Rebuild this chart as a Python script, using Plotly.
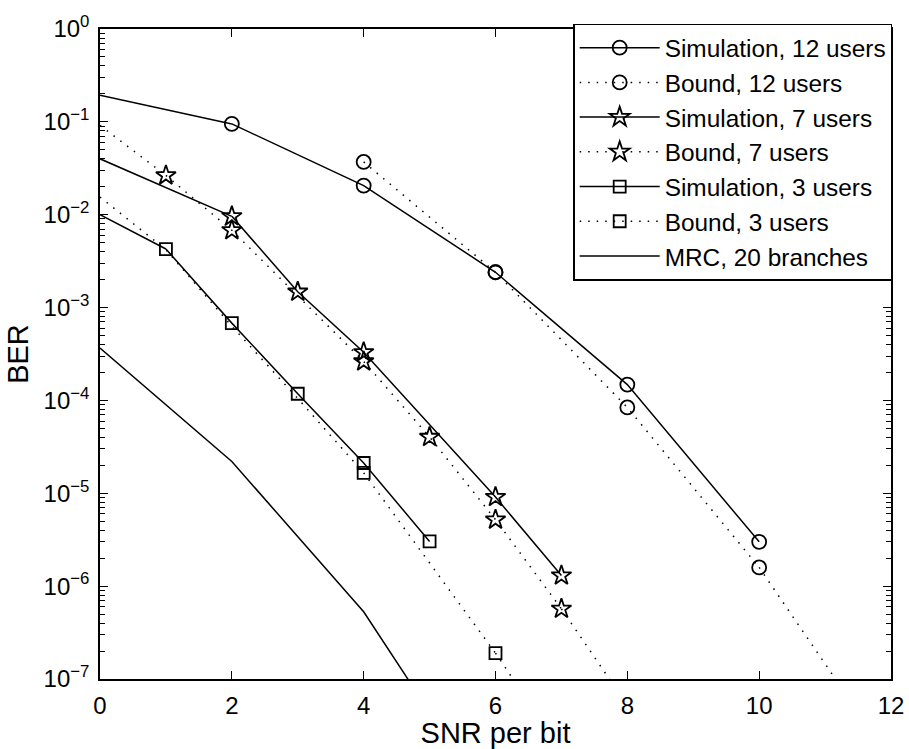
import plotly.graph_objects as go

# ---------------- data ----------------
snr_sim12 = [0, 2, 4, 6, 8, 10]
ber_sim12 = [0.193, 0.095, 0.0206, 0.0024, 1.48e-4, 3.0e-6]
mark_sim12 = [0, 1, 1, 1, 1, 1]

snr_bnd12 = [4, 6, 8, 10, 11, 11.5]
ber_bnd12 = [0.037, 0.0024, 8.4e-5, 1.59e-6, 1.46e-7, 4.4e-8]
mark_bnd12 = [1, 1, 1, 1, 0, 0]

snr_sim7 = [0, 2, 3, 4, 6, 7]
ber_sim7 = [0.040, 0.0096, 1.48e-3, 3.3e-4, 9.1e-6, 1.30e-6]
mark_sim7 = [0, 1, 1, 1, 1, 1]

snr_bnd7 = [0, 1, 2, 4, 5, 6, 7, 8]
ber_bnd7 = [0.0916, 0.0265, 0.0068, 2.63e-4, 4.04e-5, 5.2e-6, 5.7e-7, 5.2e-8]
mark_bnd7 = [0, 1, 1, 1, 1, 1, 1, 0]

snr_sim3 = [0, 1, 2, 3, 4, 5]
ber_sim3 = [0.0100, 4.27e-3, 6.8e-4, 1.18e-4, 2.12e-5, 3.03e-6]
mark_sim3 = [0, 1, 1, 1, 1, 1]

snr_bnd3 = [0, 1, 2, 3, 4, 6, 7]
ber_bnd3 = [0.0155, 4.2e-3, 6.3e-4, 1.05e-4, 1.66e-5, 1.9e-7, 1.7e-8]
mark_bnd3 = [0, 0, 0, 0, 1, 1, 0]

snr_mrc = [0, 2, 4, 5]
ber_mrc = [3.67e-4, 2.2e-5, 5.3e-7, 4.4e-8]

x_ticks = [0, 2, 4, 6, 8, 10, 12]
y_exps = [0, -1, -2, -3, -4, -5, -6, -7]

names = ["Simulation, 12 users", "Bound, 12 users", "Simulation, 7 users",
         "Bound, 7 users", "Simulation, 3 users", "Bound, 3 users",
         "MRC, 20 branches"]

# ---------------- figure ----------------
FONT = "Liberation Sans, Arial, Helvetica, sans-serif"
DOT = "1.5px,7px"
LW = 1.5
MLW = 1.8

fig = go.Figure()


def add(x, y, marks, name, symbol, msize, dash, group):
    idx = [i for i, m in enumerate(marks) if m]
    a, b = idx[0], idx[-1]
    line = dict(color="black", width=LW, dash=dash)
    # marked run: line + markers (carries the legend entry)
    fig.add_trace(go.Scatter(
        x=x[a:b + 1], y=y[a:b + 1], name=name, mode="lines+markers",
        legendgroup=group, line=line,
        marker=dict(symbol=symbol, size=msize, color="black",
                    line=dict(width=MLW, color="black")),
    ))
    # unmarked head / tail of the same curve
    if a > 0:
        fig.add_trace(go.Scatter(x=x[:a + 1], y=y[:a + 1], mode="lines",
                                 line=line, legendgroup=group,
                                 showlegend=False, hoverinfo="skip"))
    if b < len(x) - 1:
        fig.add_trace(go.Scatter(x=x[b:], y=y[b:], mode="lines",
                                 line=line, legendgroup=group,
                                 showlegend=False, hoverinfo="skip"))


add(snr_sim12, ber_sim12, mark_sim12, names[0], "circle-open", 14, "solid", "g1")
add(snr_bnd12, ber_bnd12, mark_bnd12, names[1], "circle-open", 14, DOT, "g2")
add(snr_sim7, ber_sim7, mark_sim7, names[2], "star-open", 15, "solid", "g3")
add(snr_bnd7, ber_bnd7, mark_bnd7, names[3], "star-open", 15, DOT, "g4")
add(snr_sim3, ber_sim3, mark_sim3, names[4], "square-open", 12, "solid", "g5")
add(snr_bnd3, ber_bnd3, mark_bnd3, names[5], "square-open", 12, DOT, "g6")
fig.add_trace(go.Scatter(x=snr_mrc, y=ber_mrc, name=names[6], mode="lines",
                         legendgroup="g7",
                         line=dict(color="black", width=LW)))

y_vals = [10.0 ** e for e in y_exps]
y_text = ["10<sup>%s</sup>" % (str(e).replace("-", "\u2212")) for e in y_exps]

fig.update_layout(
    width=909, height=749,
    margin=dict(l=100, r=18, t=29, b=70),
    paper_bgcolor="white", plot_bgcolor="white",
    font=dict(family=FONT, size=24, color="black"),
    showlegend=True,
    legend=dict(
        x=1.0015, xanchor="right", y=1.008, yanchor="top",
        bgcolor="white", bordercolor="black", borderwidth=1.5,
        font=dict(family=FONT, size=24.4, color="black"),
        itemsizing="trace", itemwidth=80, tracegroupgap=2,
        traceorder="normal",
    ),
    xaxis=dict(
        range=[0, 12], tickvals=x_ticks, ticktext=[str(v) for v in x_ticks],
        ticks="inside", ticklen=8, tickwidth=1.3, tickcolor="black",
        showline=True, linecolor="black", linewidth=1.5, mirror="ticks",
        showgrid=False, zeroline=False, automargin=False,
        title=dict(text="SNR per bit", standoff=2),
        ticklabelstandoff=4,
    ),
    yaxis=dict(
        type="log", range=[-7, 0], tickvals=y_vals, ticktext=y_text,
        ticks="inside", ticklen=8, tickwidth=1.3, tickcolor="black",
        showline=True, linecolor="black", linewidth=1.5, mirror="ticks",
        showgrid=False, zeroline=False, automargin=False,
        minor=dict(ticks="inside", ticklen=5, tickwidth=1, tickcolor="black",
                   dtick="D1", showgrid=False),
        title=dict(text="BER", standoff=6),
        ticklabelstandoff=4,
    ),
)

fig.write_html("out.html")
